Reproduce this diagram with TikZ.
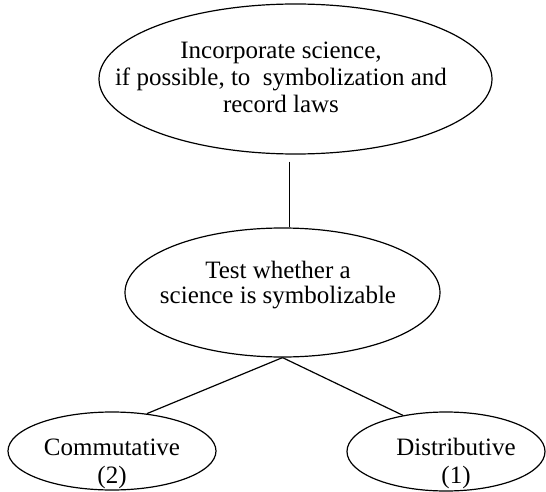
\documentclass[tikz,border=0pt]{standalone}
\usepackage{fontspec}
\setmainfont{Liberation Serif}
\usetikzlibrary{shapes.geometric,calc,positioning}
\tikzset{oval/.style={draw,ellipse,inner sep=0pt,line width=1.2pt}}

\begin{document}
\begin{tikzpicture}[x=1pt,y=-1pt]
    \useasboundingbox (0,0) rectangle (546,492);

    % draw the ovals
    \node[oval,minimum width=393pt,minimum height=150pt] (incorp) at (295.5,79) {};
    \node[oval,minimum width=315pt,minimum height=129pt] (test) at (282.5,292.5) {};
    \node[oval,minimum width=208pt,minimum height=78pt] (comm) at (112,451) {};
    \node[oval,minimum width=198pt,minimum height=79pt] (dist) at (446,451.5) {};

    % put the text in the ovals (base is the last line)
    \node[anchor=base,align=center,font=\fontsize{25}{27}\selectfont] (incorptext) at (281,113)
        {Incorporate science,\\ if possible, to\ \ symbolization and\\ record laws};
    \node[anchor=base,align=center,font=\fontsize{25}{25}\selectfont] (testtext) at (278,303)
        {Test whether a\\ science is symbolizable};
    \node[anchor=base,align=center,font=\fontsize{25}{28}\selectfont] (commtext) at (112,483)
        {Commutative\\ (2)};
    \node[anchor=base,align=center,font=\fontsize{25}{28}\selectfont] (disttext) at (456,483)
        {Distributive\\ (1)};

    % connect the ovals
    \draw[line width=0.9pt] ([xshift=-6.5pt,yshift=-7pt]incorp.south) -- ([xshift=6.5pt]test.north);
    \draw[line width=1.2pt] (test.south) -- (comm.47);
    \draw[line width=1.2pt] (test.south) -- (dist.140);
\end{tikzpicture}
\end{document}
